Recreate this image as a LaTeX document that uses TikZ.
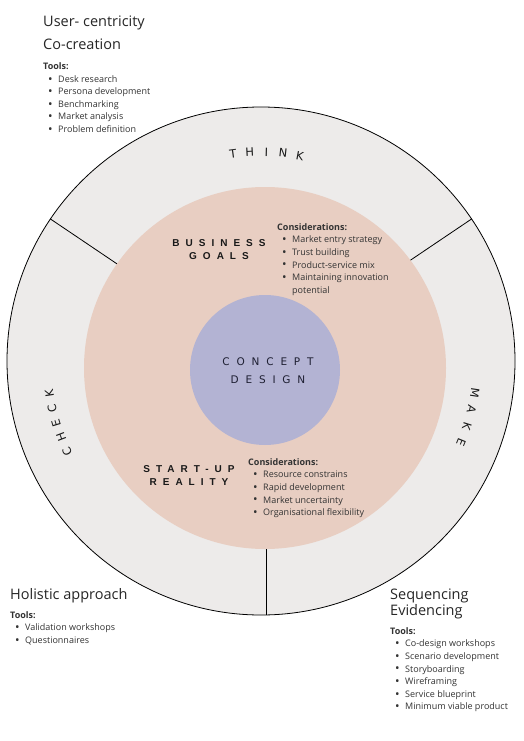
\documentclass[tikz,border=0pt]{standalone}
\usepackage{fontspec}
\setmainfont{Open Sans}
\newfontfamily\layerfont[LetterSpace=60]{Liberation Sans}
\newfontfamily\corefont[LetterSpace=65]{DejaVu Sans}
\newfontfamily\ringfont{DejaVu Sans}
\usetikzlibrary{calc}
\definecolor{ringgrey}{HTML}{EDEBEA}
\definecolor{peach}{HTML}{E8CEC2}
\definecolor{lavender}{HTML}{B3B3D3}
\definecolor{inkgrey}{HTML}{333333}
\definecolor{navyink}{HTML}{1F2033}
\newcommand{\bitem}[1]{\hspace*{5pt}\makebox[10pt][l]{\raisebox{-0.9pt}{\fontsize{12}{12}\selectfont\textbullet}}#1}

\begin{document}
\begin{tikzpicture}[x=1pt,y=1pt,
  heading/.style={anchor=base west,inner sep=0pt,font=\fontsize{14.5}{16}\selectfont,text=black!85},
  toollist/.style={anchor=north west,inner sep=0pt,align=left,font=\fontsize{9}{12.6}\selectfont,text=inkgrey},
  layer/.style={align=center,inner sep=0pt,font=\layerfont\bfseries\fontsize{10}{13}\selectfont,text=black!90},
  core/.style={align=center,inner sep=0pt,font=\corefont\fontsize{10.5}{18}\selectfont,text=navyink},
  ringletter/.style={inner sep=0pt,font=\ringfont\fontsize{11.5}{14}\selectfont,text=black!90},
  divider/.style={draw=black,line width=0.8pt}]

  \useasboundingbox (0,0) rectangle (524,-741);
  \fill[white] (0,0) rectangle (524,-741);

  % rings
  \coordinate (o) at (261,-361);
  \coordinate (p) at (265,-368);
  \coordinate (q) at (265,-370);
  \filldraw[fill=ringgrey,divider] (o) circle (254);
  \coordinate (thinkcheck) at ($(o)+(146:254)$);
  \coordinate (thinkmake) at ($(o)+(34:254)$);
  \coordinate (checkmake) at (266,-615);
  \draw[divider] ($(o)+(146:150)$) -- (thinkcheck);
  \draw[divider] ($(o)+(34:150)$) -- (thinkmake);
  \draw[divider] (266,-500) -- (checkmake);
  \fill[peach] (p) circle (181);
  \fill[lavender] (q) circle (75);

  % ring labels
  \foreach \ch [count=\i, evaluate=\i as \a using 97.7-4.6*(\i-1)] in {T,H,I,N,K}
    \node[ringletter,rotate=\a-90] (think\i) at ($(o)+(\a:209)$) {\ch};
  \foreach \ch [count=\i, evaluate=\i as \a using 205-4.1*(\i-1)] in {C,H,E,C,K}
    \node[ringletter,rotate=\a-90] (check\i) at ($(o)+(\a:214)$) {\ch};
  \foreach \ch [count=\i, evaluate=\i as \a using -8.4-4.57*(\i-1)] in {M,A,K,E}
    \node[ringletter,rotate=\a-90] (make\i) at ($(o)+(\a:216)$) {\ch};

  % centre
  \node[core] (concept) at (268,-371) {CONCEPT\\DESIGN};
  \node[layer] (business) at (219,-249.5) {BUSINESS\\GOALS};
  \node[layer] (startup) at (189,-475.5) {START-UP\\REALITY};

  \node[toollist] (bizlist) at (277,-223.2) {\textbf{Considerations:}\\
    \bitem{Market entry strategy}\\
    \bitem{Trust building}\\
    \bitem{Product-service mix}\\
    \bitem{Maintaining innovation}\\
    \hspace*{15pt}potential};
  \node[toollist] (startlist) at (248,-458.2) {\textbf{Considerations:}\\
    \bitem{Resource constrains}\\
    \bitem{Rapid development}\\
    \bitem{Market uncertainty}\\
    \bitem{Organisational flexibility}};

  % outside corners
  \node[heading] (usercentric) at (43,-27) {User- centricity};
  \node[heading] (cocreation) at (43,-50) {Co-creation};
  \node[toollist] (thinklist) at (43,-62.5) {\textbf{Tools:}\\
    \bitem{Desk research}\\
    \bitem{Persona development}\\
    \bitem{Benchmarking}\\
    \bitem{Market analysis}\\
    \bitem{Problem definition}};

  \node[heading] (holistic) at (10,-599) {Holistic approach};
  \node[toollist] (checklist) at (10,-611.2) {\textbf{Tools:}\\
    \bitem{Validation workshops}\\
    \bitem{Questionnaires}};

  \node[heading] (sequencing) at (390,-599) {Sequencing};
  \node[heading] (evidencing) at (390,-615) {Evidencing};
  \node[toollist] (makelist) at (390,-627.2) {\textbf{Tools:}\\
    \bitem{Co-design workshops}\\
    \bitem{Scenario development}\\
    \bitem{Storyboarding}\\
    \bitem{Wireframing}\\
    \bitem{Service blueprint}\\
    \bitem{Minimum viable product}};
\end{tikzpicture}
\end{document}
